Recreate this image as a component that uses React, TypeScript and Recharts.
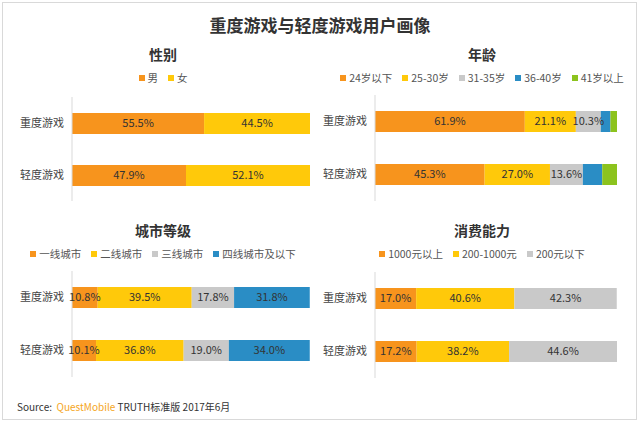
import { BarChart, Bar, XAxis, YAxis, LabelList } from "recharts";

const categories = ["重度游戏", "轻度游戏"];

// 性别
const genderNames = ["男", "女"];
const male = [55.5, 47.9];
const female = [44.5, 52.1];

// 年龄
const ageNames = ["24岁以下", "25-30岁", "31-35岁", "36-40岁", "41岁以上"];
const ageUnder24 = [61.9, 45.3];
const age25to30 = [21.1, 27.0];
const age31to35 = [10.3, 13.6];
const age36to40 = [4.0, 8.0];
const age41plus = [2.7, 6.1];

// 城市等级
const cityNames = ["一线城市", "二线城市", "三线城市", "四线城市及以下"];
const tier1 = [10.8, 10.1];
const tier2 = [39.5, 36.8];
const tier3 = [17.8, 19.0];
const tier4 = [31.8, 34.0];

// 消费能力
const spendNames = ["1000元以上", "200-1000元", "200元以下"];
const spendHigh = [17.0, 17.2];
const spendMid = [40.6, 38.2];
const spendLow = [42.3, 44.6];

const ORANGE = "#F7941D";
const YELLOW = "#FFC90A";
const GRAY = "#C9C9C9";
const BLUE = "#2A8DC5";
const GREEN = "#8CC31E";

const FONT = '"Noto Sans CJK SC", "Noto Sans", sans-serif';

type Series = { name: string; values: number[]; color: string; label: boolean };

function Panel({
  title,
  series,
  left,
  titleTop,
  legendTop,
  legendGap,
  plotTop,
  plotHeight,
  axisWidth,
  rightMargin,
}: {
  title: string;
  series: Series[];
  left: number;
  titleTop: number;
  legendTop: number;
  legendGap: number;
  plotTop: number;
  plotHeight: number;
  axisWidth: number;
  rightMargin: number;
}) {
  const data = categories.map((c, i) => {
    const row: Record<string, string | number> = { name: c };
    series.forEach((s, j) => (row["s" + j] = s.values[i]));
    return row;
  });

  return (
    <>
      <div
        style={{
          position: "absolute",
          left,
          top: titleTop,
          width: 320,
          textAlign: "center",
          fontSize: 14,
          fontWeight: 700,
          color: "#333",
          lineHeight: "20px",
        }}
      >
        {title}
      </div>
      <div
        style={{
          position: "absolute",
          left,
          top: legendTop,
          width: 320,
          display: "flex",
          justifyContent: "center",
          gap: legendGap,
          fontSize: 10.5,
          color: "#555",
          lineHeight: "14px",
        }}
      >
        {series.map((s) => (
          <span key={s.name} style={{ display: "flex", alignItems: "center" }}>
            <span style={{ width: 6, height: 6, background: s.color, marginRight: 3 }} />
            {s.name}
          </span>
        ))}
      </div>
      <div style={{ position: "absolute", left, top: plotTop }}>
        <BarChart
          width={320}
          height={plotHeight}
          data={data}
          layout="vertical"
          margin={{ top: 0, right: rightMargin, bottom: 0, left: 0 }}
          barSize={21}
        >
          <XAxis type="number" domain={[0, 100]} allowDataOverflow hide />
          <YAxis
            type="category"
            dataKey="name"
            width={axisWidth}
            axisLine={{ stroke: "#D9D9D9" }}
            tickLine={false}
            tick={{ fontSize: 11, fill: "#444", fontFamily: FONT }}
          />
          {series.map((s, j) => (
            <Bar key={s.name} dataKey={"s" + j} stackId="a" fill={s.color} isAnimationActive={false}>
              {s.label && (
                <LabelList
                  dataKey={"s" + j}
                  position="center"
                  formatter={(v: any) => `${Number(v).toFixed(1)}%`}
                  style={{ fontSize: 11, fill: "#333", fontFamily: FONT }}
                />
              )}
            </Bar>
          ))}
        </BarChart>
      </div>
    </>
  );
}

export default function App() {
  const genderSeries: Series[] = [
    { name: genderNames[0], values: male, color: ORANGE, label: true },
    { name: genderNames[1], values: female, color: YELLOW, label: true },
  ];
  const ageSeries: Series[] = [
    { name: ageNames[0], values: ageUnder24, color: ORANGE, label: true },
    { name: ageNames[1], values: age25to30, color: YELLOW, label: true },
    { name: ageNames[2], values: age31to35, color: GRAY, label: true },
    { name: ageNames[3], values: age36to40, color: BLUE, label: false },
    { name: ageNames[4], values: age41plus, color: GREEN, label: false },
  ];
  const citySeries: Series[] = [
    { name: cityNames[0], values: tier1, color: ORANGE, label: true },
    { name: cityNames[1], values: tier2, color: YELLOW, label: true },
    { name: cityNames[2], values: tier3, color: GRAY, label: true },
    { name: cityNames[3], values: tier4, color: BLUE, label: true },
  ];
  const spendSeries: Series[] = [
    { name: spendNames[0], values: spendHigh, color: ORANGE, label: true },
    { name: spendNames[1], values: spendMid, color: YELLOW, label: true },
    { name: spendNames[2], values: spendLow, color: GRAY, label: true },
  ];

  return (
    <div
      style={{
        position: "absolute",
        left: 0,
        top: 0,
        width: 640,
        height: 421,
        background: "#fff",
        fontFamily: FONT,
        overflow: "hidden",
      }}
    >
      <div
        style={{
          position: "absolute",
          left: 2,
          top: 2,
          width: 633,
          height: 416,
          border: "1px solid #D9D9D9",
        }}
      />
      <div
        style={{
          position: "absolute",
          left: 0,
          top: 12,
          width: 640,
          textAlign: "center",
          fontSize: 17,
          fontWeight: 700,
          color: "#333",
          lineHeight: "26px",
        }}
      >
        重度游戏与轻度游戏用户画像
      </div>

      <Panel title="性别" series={genderSeries} left={3} titleTop={44} legendTop={71} legendGap={10}
        plotTop={97} plotHeight={104} axisWidth={69} rightMargin={13} />
      <Panel title="年龄" series={ageSeries} left={322} titleTop={44} legendTop={71} legendGap={10}
        plotTop={95} plotHeight={106} axisWidth={53} rightMargin={25} />
      <Panel title="城市等级" series={citySeries} left={3} titleTop={220} legendTop={247} legendGap={10}
        plotTop={271} plotHeight={106} axisWidth={69} rightMargin={13} />
      <Panel title="消费能力" series={spendSeries} left={322} titleTop={220} legendTop={247} legendGap={10}
        plotTop={272} plotHeight={106} axisWidth={53} rightMargin={25} />

      <div
        style={{
          position: "absolute",
          left: 17,
          top: 400,
          fontSize: 10,
          color: "#333",
          lineHeight: "14px",
        }}
      >
        Source:&nbsp;&nbsp;<span style={{ color: "#F5A623" }}>QuestMobile</span> TRUTH标准版 2017年6月
      </div>
    </div>
  );
}
